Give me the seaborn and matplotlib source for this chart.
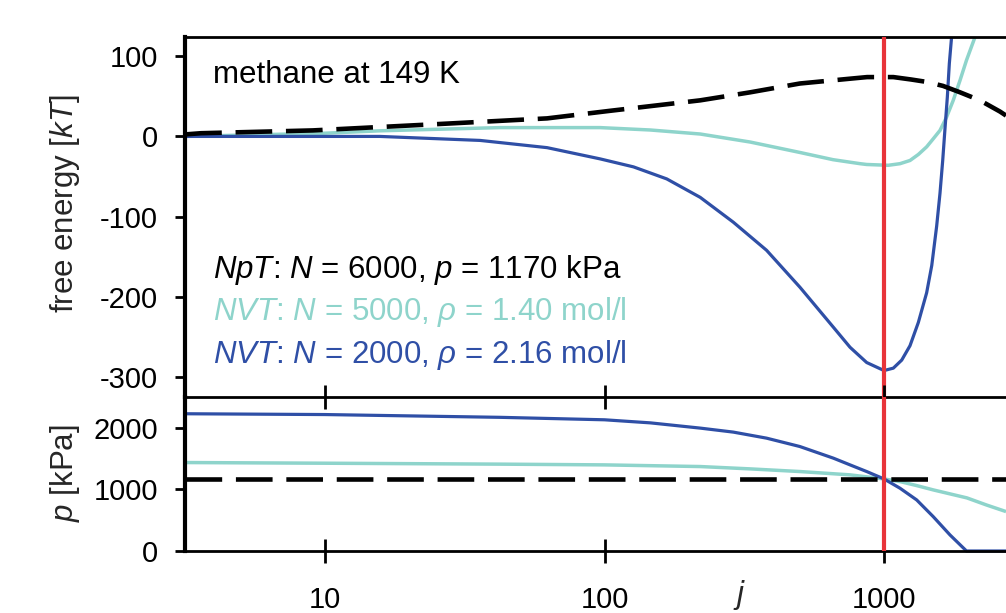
import matplotlib
matplotlib.use("Agg")
import matplotlib.pyplot as plt
from matplotlib.ticker import NullLocator, FixedLocator
import seaborn as sns

# ---- free energy [kT] versus cluster size j ----
j_npt_g = [3.16, 3.6, 9.05, 27.4, 62.3, 105, 220, 332, 500, 756, 870, 1000, 1080,
           1250, 1421, 1626, 1871, 2203, 2600, 2733]
g_npt = [2.5, 4, 7.5, 16, 22.5, 32, 45, 55, 66, 72, 74, 74, 74,
         71, 68, 63, 55, 45, 31, 26]

j_nvt5000_g = [3.16, 10, 15.7, 42.3, 96.4, 146, 220, 332, 500, 657, 821, 867, 1036, 1141,
               1239, 1327, 1421, 1500, 1586, 1674, 1769, 1871, 1973, 2117, 2200]
g_nvt5000 = [0, 4, 7, 11, 11, 8, 3, -7, -20, -29, -34, -35, -36, -34,
             -30, -22.5, -13, -3, 7.5, 24, 45, 70, 95, 124, 140]

j_nvt2000_g = [3.16, 10, 15.7, 35.9, 62.3, 96.4, 127, 167, 220, 289, 380, 500, 659, 756,
               867, 1000, 1080, 1157, 1239, 1327, 1421, 1482, 1543, 1586, 1622, 1653,
               1685, 1713, 1745, 1780]
g_nvt2000 = [0, 0, 0, -5, -14, -28, -38, -53, -76, -107, -142, -188, -238, -263,
             -282, -292, -289, -279, -261, -232, -195, -161, -112, -71, -30, 10,
             49, 91, 124, 155]

# ---- pressure [kPa] versus cluster size j ----
j_npt_p = [3.16, 2733]
p_npt = [1170, 1170]

j_nvt5000_p = [3.16, 10, 42.3, 100, 220, 332, 500, 756, 1000, 1141, 1309, 1500, 1723,
               1980, 2323, 2733]
p_nvt5000 = [1436, 1425, 1410, 1398, 1371, 1333, 1290, 1236, 1170, 1127, 1062, 992, 927,
             862, 748, 640]

j_nvt2000_p = [3.16, 10, 42.3, 100, 146, 220, 289, 380, 500, 659, 756, 867, 1000, 1141,
               1309, 1500, 1723, 1973, 2733]
p_nvt2000 = [2228, 2215, 2170, 2130, 2080, 1995, 1930, 1832, 1696, 1507, 1398, 1290, 1170,
             1019, 829, 558, 260, 0, 0]

j_marker = 1000
x_ticks = [10, 100, 1000]
x_ticklabels = ["10", "100", "1000"]
g_ticks = [100, 0, -100, -200, -300]
p_ticks = [0, 1000, 2000]

BLACK = "black"
TEAL = "#8ed4cb"
BLUE = "#2f4fa6"
RED = "#e8343a"

sns.set_style("white")
plt.rcParams["font.family"] = ["Liberation Sans", "DejaVu Sans"]
plt.rcParams["mathtext.fontset"] = "custom"
plt.rcParams["mathtext.rm"] = "Liberation Sans"
plt.rcParams["mathtext.it"] = "Liberation Sans:italic"
plt.rcParams["mathtext.bf"] = "Liberation Sans:bold"
plt.rcParams["axes.edgecolor"] = "black"
plt.rcParams["text.color"] = "black"
plt.rcParams["xtick.color"] = "black"
plt.rcParams["ytick.color"] = "black"

W, H = 1006, 613
fig = plt.figure(figsize=(W / 100, H / 100), dpi=100)
x0, x1 = 185, 1006
ax1 = fig.add_axes([x0 / W, 1 - 397 / H, (x1 - x0) / W, 360 / H])
ax2 = fig.add_axes([x0 / W, 1 - 551 / H, (x1 - x0) / W, 154 / H])
ax2.patch.set_visible(False)

xlim = (10 ** 0.499, 10 ** 3.4365)
dash = (0, (8, 3))

# upper panel
sns.lineplot(x=j_nvt5000_g, y=g_nvt5000, ax=ax1, color=TEAL, lw=2.5, estimator=None, sort=False)
sns.lineplot(x=j_nvt2000_g, y=g_nvt2000, ax=ax1, color=BLUE, lw=2.3, estimator=None, sort=False)
sns.lineplot(x=j_npt_g, y=g_npt, ax=ax1, color=BLACK, lw=3.3, linestyle=dash,
             estimator=None, sort=False)
ax1.axvline(j_marker, color=RED, lw=3.0, zorder=5)

# lower panel
sns.lineplot(x=j_nvt5000_p, y=p_nvt5000, ax=ax2, color=TEAL, lw=2.5, estimator=None, sort=False)
sns.lineplot(x=j_nvt2000_p, y=p_nvt2000, ax=ax2, color=BLUE, lw=2.3, estimator=None, sort=False)
sns.lineplot(x=j_npt_p, y=p_npt, ax=ax2, color=BLACK, lw=3.3, linestyle=dash,
             estimator=None, sort=False)
ax2.axvline(j_marker, color=RED, lw=3.0, zorder=5)
for ln in ax2.lines:
    ln.set_clip_on(False)
for ax in (ax1, ax2):
    for ln in ax.lines:
        ln.set_solid_joinstyle("round")
        ln.set_solid_capstyle("butt")

for ax in (ax1, ax2):
    ax.set_xscale("log")
    ax.set_xlim(*xlim)
    ax.xaxis.set_minor_locator(NullLocator())
    ax.spines["right"].set_visible(False)
    ax.spines["left"].set_linewidth(3)
    for s in ("top", "bottom"):
        ax.spines[s].set_linewidth(2)
    for s in ax.spines.values():
        s.set_edgecolor("black")
    ax.set_xlabel("")
    ax.set_ylabel("")
    ax.tick_params(axis="y", direction="out", length=7.5, width=2, pad=12,
                   left=True, colors="black")

ax2.spines["top"].set_visible(False)

ax1.set_ylim(-325, 124)
ax1.yaxis.set_major_locator(FixedLocator(g_ticks))
ax1.set_yticklabels([str(v) for v in g_ticks])
ax1.tick_params(axis="x", bottom=False, labelbottom=False, top=False)
ax1.xaxis.set_major_locator(NullLocator())

ax2.set_ylim(0, 2500)
ax2.yaxis.set_major_locator(FixedLocator(p_ticks))
ax2.set_yticklabels([str(v) for v in p_ticks])
ax2.xaxis.set_major_locator(FixedLocator(x_ticks))
ax2.set_xticklabels(x_ticklabels)
ax2.tick_params(axis="x", direction="inout", length=17, width=2, pad=17,
                top=True, labeltop=False, bottom=True, colors="black")

for ax in (ax1, ax2):
    for lab in ax.get_yticklabels() + ax.get_xticklabels():
        lab.set_fontsize(21)
        lab.set_color("black")

# axis labels
ax1.set_ylabel("free energy [$kT$]", fontsize=22.5)
ax1.yaxis.set_label_coords(-0.1255, 0.536)
ax2.set_ylabel("$p$ [kPa]", fontsize=22.5)
ax2.yaxis.set_label_coords(-0.1255, 0.508)
ax2.set_xlabel("$j$", fontsize=22.5, va="top")
ax2.xaxis.set_label_coords(0.676, -0.175)

# annotations
ax1.text(0.034, 0.872, "methane at 149 K", transform=ax1.transAxes,
         fontsize=22.5, color="black", va="baseline", ha="left")
ax1.text(0.034, 0.3306, "$NpT$: $N$ = 6000, $p$ = 1170 kPa", transform=ax1.transAxes,
         fontsize=22.5, color="black", va="baseline", ha="left")
ax1.text(0.034, 0.2139, "$NVT$: $N$ = 5000, $\\rho$ = 1.40 mol/l", transform=ax1.transAxes,
         fontsize=22.5, color=TEAL, va="baseline", ha="left")
ax1.text(0.034, 0.0944, "$NVT$: $N$ = 2000, $\\rho$ = 2.16 mol/l", transform=ax1.transAxes,
         fontsize=22.5, color=BLUE, va="baseline", ha="left")

fig.savefig("out.png", dpi=100)
